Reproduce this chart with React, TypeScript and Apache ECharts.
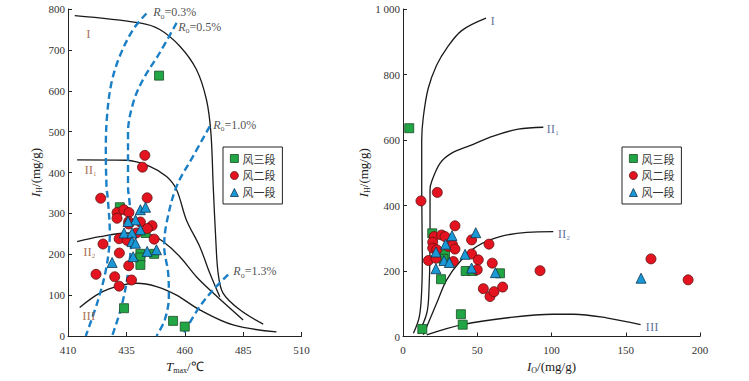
import React, { useEffect, useRef } from "react";
import * as echarts from "echarts";

const SERIF = "'Liberation Serif', 'Times New Roman', serif";
const CJK = "'Noto Sans CJK SC', sans-serif";
const NAMES = ["风三段", "风二段", "风一段"];

// ---------- Left chart (Tmax vs I_H) ----------
const leftGreen = [
  [449, 637], [432.2, 315], [443.2, 252], [441, 201], [441, 192], [441, 174],
  [446.9, 201], [434, 68], [455, 37], [460, 23],
];
const leftRed = [
  [424, 337], [443.9, 338], [442.9, 442], [441.9, 413], [431, 302], [433.9, 309],
  [436.1, 302], [431, 288], [436, 280], [436, 274], [441, 279], [446, 270],
  [444, 263], [439.3, 252], [431.9, 238], [435.3, 234], [446.9, 237], [425, 225],
  [432, 203], [436, 172], [422, 151], [430, 145], [437.2, 137], [431.9, 122],
];
const leftBlue = [
  [441, 309], [443.2, 315], [438.9, 284], [435.7, 280], [441, 260], [434, 252],
  [437.4, 252], [437.4, 231], [438.9, 227], [443.9, 207], [447.9, 211],
  [437.9, 194], [428.9, 180],
];
const leftCurveI = [
  [412.9, 784], [440.7, 766], [449.3, 750], [457.9, 709], [465, 652], [469.3, 578],
  [471.2, 497], [472.2, 366], [473.3, 235], [474.3, 154], [476.4, 105], [483.6, 64],
  [493.6, 29],
];
const leftCurveII1 = [
  [413.9, 431], [435, 430], [445, 415], [452.2, 390], [456.5, 358], [460.7, 284],
  [466.4, 219], [470.7, 154], [475, 96],
];
const leftCurveII2 = [
  [413.9, 231], [423.6, 243], [435, 252], [445, 248], [450.7, 231], [457.9, 194],
  [465, 145], [472.2, 105], [485, 39],
];
const leftCurveIII = [
  [415, 70], [423.6, 105], [432.2, 123], [439.3, 129], [447.9, 121], [456.5, 100],
  [466.4, 64], [480.7, 27], [499.3, 10],
];
const ro03 = [
  [443.6, 789], [437.9, 750], [432.2, 685], [428.6, 619], [426.7, 537], [426.2, 456],
  [426.5, 366], [427.1, 333], [427.9, 252], [426.5, 170], [422.9, 88], [417.6, 0],
];
const ro05 = [
  [456.5, 766], [449.3, 693], [442.1, 627], [437.9, 570], [435.7, 497], [435.7, 366],
  [436.4, 325], [437.2, 252], [435.7, 154], [432.9, 72], [428.9, 0],
];
const ro10 = [
  [470.7, 513], [463.6, 440], [456.5, 366], [452.2, 276], [451.2, 219], [452.9, 154],
  [453.2, 96], [451.4, 39], [447.9, 0],
];
const ro13 = [[478.6, 150], [472.2, 113], [466.4, 72], [459.6, 7]];
const roLabels = ["{it|R}{sub|o}{n|=0.3%}", "{it|R}{sub|o}{n|=0.5%}", "{it|R}{sub|o}{n|=1.0%}", "{it|R}{sub|o}{n|=1.3%}"];
const roLabelPos = [[446.3, 792], [457, 757], [472, 517], [480.6, 159]];
const romanLabels = ["{r|I}", "{r|II}{rs|1}", "{r|II}{rs|2}", "{r|III}"];
const leftRomanPos = [[417.6, 739], [416.8, 407], [416.3, 207], [415.9, 51]];

// ---------- Right chart (I_O vs I_H) ----------
const rightGreen = [
  [4.2, 636], [19.7, 315], [28.3, 251], [27.2, 237], [25.6, 175], [42.2, 200],
  [46.9, 200], [65.3, 193], [39, 68], [40.2, 36], [13, 23],
];
const rightRed = [
  [12.1, 414], [23.1, 440], [17.1, 232], [20.9, 305], [20, 288], [20, 270],
  [22.7, 265], [22.2, 239], [26, 310], [28.3, 305], [30.5, 275], [33.4, 280],
  [35, 267], [35, 338], [33.9, 229], [46.2, 295], [46.2, 252], [50.7, 234],
  [50, 204], [57.9, 282], [60.1, 224], [54.1, 146], [58.6, 122], [61.3, 137],
  [67.1, 151], [92.3, 201], [167, 237], [192, 173],
];
const rightBlue = [
  [33, 308], [49, 317], [22.2, 258], [28.7, 282], [27.6, 232], [31.2, 226],
  [22.2, 207], [41.8, 251], [46.2, 209], [62.2, 195], [160.3, 178],
];
const rightCurveI = [
  [7, 10], [11, 61], [12.6, 142], [13, 244], [12.6, 448], [12.6, 600], [13.7, 671],
  [17, 758], [22.7, 829], [29.4, 880], [39.5, 934], [55.9, 972],
];
const rightCurveII1 = [
  [10.3, 8], [16, 71], [17.5, 142], [18.2, 295], [18.2, 448], [19.3, 473],
  [24.9, 529], [32.8, 560], [45.1, 583], [60.8, 612], [77.6, 633], [94.5, 639],
];
const rightCurveII2 = [
  [13.7, 5], [22.7, 102], [29.4, 173], [38.4, 229], [49.6, 275], [65.3, 305],
  [83.3, 318], [101.2, 320],
];
const rightCurveIII = [
  [16, 5], [40, 36], [72, 58], [101, 68], [115, 68], [137, 57], [160, 36],
];
const rightRomanPos = [[58.6, 964], [96.3, 636], [103.9, 316], [163, 30]];

const GREEN = { color: "#22a544", borderColor: "#1b4d26", borderWidth: 0.8, opacity: 1 };
const RED = { color: "#e3141f", borderColor: "#5e1010", borderWidth: 0.8, opacity: 1 };
const BLUE = { color: "#1a99d6", borderColor: "#0d3550", borderWidth: 0.8, opacity: 1 };

const richText = {
  it: { fontFamily: SERIF, fontStyle: "italic", fontSize: 13, color: "#222", lineHeight: 16 },
  sub: { fontFamily: SERIF, fontSize: 8, color: "#222", verticalAlign: "bottom", lineHeight: 14 },
  n: { fontFamily: SERIF, fontSize: 13, color: "#222", lineHeight: 16 },
};

function romanRich(color: string) {
  return {
    r: { fontFamily: SERIF, fontSize: 13, color, lineHeight: 16 },
    rs: { fontFamily: SERIF, fontSize: 7, color, verticalAlign: "bottom", lineHeight: 13 },
  };
}

function curve(data: number[][], idx: number, dashed = false) {
  return {
    type: "line",
    xAxisIndex: idx,
    yAxisIndex: idx,
    data,
    smooth: 0.35,
    showSymbol: false,
    symbol: "none",
    silent: true,
    z: 1,
    lineStyle: dashed
      ? { color: "#1b7fc6", width: 2.4, type: [7, 4] }
      : { color: "#1a1a1a", width: 1.3 },
  };
}

function scat(name: string, data: number[][], idx: number, symbol: string, size: number, style: any) {
  return {
    type: "scatter",
    name,
    xAxisIndex: idx,
    yAxisIndex: idx,
    data,
    symbol,
    symbolSize: size,
    itemStyle: style,
    z: 5,
  };
}

function notes(pos: number[][], texts: string[], idx: number, rich: any) {
  return {
    type: "scatter",
    xAxisIndex: idx,
    yAxisIndex: idx,
    silent: true,
    symbolSize: 1,
    itemStyle: { color: "rgba(0,0,0,0)" },
    z: 6,
    data: pos.map((p, i) => ({
      value: p,
      label: { show: true, position: "right", distance: 0, formatter: texts[i], rich },
    })),
  };
}

const axisCommon = {
  axisLine: { show: true, lineStyle: { color: "#222", width: 1 } },
  axisTick: { show: true, inside: true, length: 4, lineStyle: { color: "#222" } },
  splitLine: { show: false },
  axisLabel: { fontFamily: SERIF, fontSize: 11, color: "#333" },
};

function legend(left: number) {
  return {
    data: NAMES,
    orient: "vertical",
    left,
    top: 147,
    padding: [6, 7, 6, 7],
    itemGap: 6,
    itemWidth: 8,
    itemHeight: 8,
    itemStyle: { borderWidth: 0.8, opacity: 1 },
    borderColor: "#222",
    borderWidth: 1,
    textStyle: { fontFamily: CJK, fontSize: 11, color: "#333", padding: [0, 0, 0, -1] },
  };
}

export default function App() {
  const ref = useRef<HTMLDivElement>(null);
  useEffect(() => {
    document.body.style.margin = "0";
    if (!ref.current) return;
    const chart = echarts.init(ref.current, null, { renderer: "svg" });
    const option: any = {
      animation: false,
      backgroundColor: "#fff",
      grid: [
        { left: 68, top: 9, width: 233.5, height: 327 },
        { left: 403, top: 9, width: 297, height: 327.5 },
      ],
      xAxis: [
        {
          ...axisCommon,
          type: "value", gridIndex: 0, min: 410, max: 510, interval: 25,
          name: "{it|T}{sub|max}{n|/℃}",
          nameLocation: "middle", nameGap: 19,
          nameTextStyle: { rich: richText },
        },
        {
          ...axisCommon,
          type: "value", gridIndex: 1, min: 0, max: 200, interval: 50,
          name: "{it|I}{sub|O}{n|/(mg/g)}",
          nameLocation: "middle", nameGap: 19,
          nameTextStyle: { rich: richText },
        },
      ],
      yAxis: [
        {
          ...axisCommon,
          type: "value", gridIndex: 0, min: 0, max: 800, interval: 100,
          axisLabel: { ...axisCommon.axisLabel, margin: 3 },
          name: "{it|I}{sub|H}{n|/(mg/g)}",
          nameLocation: "middle", nameGap: 25, nameRotate: 90,
          nameTextStyle: { rich: richText },
        },
        {
          ...axisCommon,
          type: "value", gridIndex: 1, min: 0, max: 1000, interval: 200,
          axisLabel: {
            ...axisCommon.axisLabel, margin: 3,
            formatter: (v: number) => (v >= 1000 ? "1 000" : String(v)),
          },
          name: "{it|I}{sub|H}{n|/(mg/g)}",
          nameLocation: "middle", nameGap: 27, nameRotate: 90,
          nameTextStyle: { rich: richText },
        },
      ],
      legend: [legend(223), legend(622)],
      series: [
        curve(leftCurveI, 0),
        curve(leftCurveII1, 0),
        curve(leftCurveII2, 0),
        curve(leftCurveIII, 0),
        curve(ro03, 0, true),
        curve(ro05, 0, true),
        curve(ro10, 0, true),
        curve(ro13, 0, true),
        scat(NAMES[0], leftGreen, 0, "rect", 9, GREEN),
        scat(NAMES[1], leftRed, 0, "circle", 10, RED),
        scat(NAMES[2], leftBlue, 0, "triangle", 10, BLUE),
        notes(roLabelPos, roLabels, 0, { ...richText, it: { ...richText.it, fontSize: 12 }, n: { ...richText.n, fontSize: 12 } }),
        notes(leftRomanPos, romanLabels, 0, romanRich("#93502e")),
        curve(rightCurveI, 1),
        curve(rightCurveII1, 1),
        curve(rightCurveII2, 1),
        curve(rightCurveIII, 1),
        scat(NAMES[0], rightGreen, 1, "rect", 9, GREEN),
        scat(NAMES[1], rightRed, 1, "circle", 10, RED),
        scat(NAMES[2], rightBlue, 1, "triangle", 10, BLUE),
        notes(rightRomanPos, romanLabels, 1, romanRich("#3b5487")),
      ],
    };
    chart.setOption(option);
    return () => chart.dispose();
  }, []);
  return <div ref={ref} style={{ width: 749, height: 381 }} />;
}
